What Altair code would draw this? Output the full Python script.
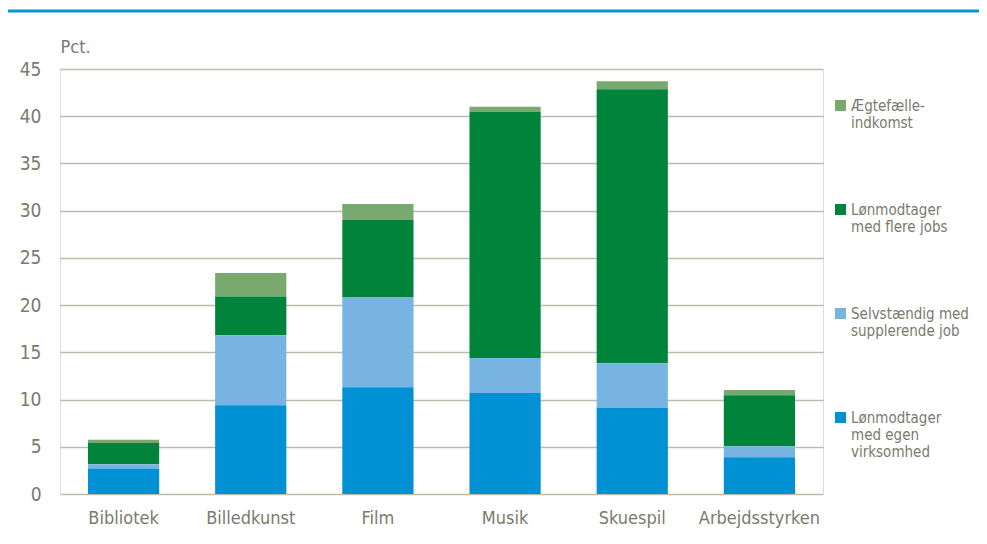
import altair as alt
import pandas as pd

categories = ["Bibliotek", "Billedkunst", "Film", "Musik", "Skuespil", "Arbejdsstyrken"]

series = [
    "Ægtefælle-\nindkomst",
    "Lønmodtager\nmed flere jobs",
    "Selvstændig med\nsupplerende job",
    "Lønmodtager\nmed egen\nvirksomhed",
]
colors = ["#78A96E", "#00843C", "#78B4E2", "#0090D4"]
# stack position: 1 = bottom
stack_rank = [4, 3, 2, 1]

egen_virksomhed = [2.7, 9.4, 11.3, 10.7, 9.1, 3.9]
selvstaendig = [0.45, 7.4, 9.5, 3.7, 4.75, 1.15]
flere_jobs = [2.25, 4.1, 8.25, 26.05, 29.0, 5.4]
aegtefaelle = [0.35, 2.5, 1.65, 0.55, 0.85, 0.55]

values_by_series = [aegtefaelle, flere_jobs, selvstaendig, egen_virksomhed]

rows = []
for s, r, vals in zip(series, stack_rank, values_by_series):
    for c, v in zip(categories, vals):
        rows.append({"Kategori": c, "Serie": s, "rank": r, "Værdi": v})
df = pd.DataFrame(rows)

FONT = "DejaVu Sans Condensed, Liberation Sans Narrow, sans-serif"
TXT = "#7a7a6e"

bars = alt.Chart(df).mark_bar().encode(
    x=alt.X(
        "Kategori:N",
        sort=categories,
        scale=alt.Scale(paddingInner=0.44, paddingOuter=0.22),
        axis=alt.Axis(title=None, labelAngle=0, ticks=False, domain=False,
                      labelPadding=15, labelFontSize=18, labelFont=FONT,
                      labelColor=TXT, grid=False),
    ),
    y=alt.Y(
        "Værdi:Q",
        stack="zero",
        scale=alt.Scale(domain=[0, 45], nice=False),
        axis=alt.Axis(values=list(range(0, 50, 5)), title="Pct.", titleAngle=0,
                      titleX=0, titleY=-22, titleAlign="left", titleBaseline="middle",
                      titleFont=FONT, titleFontSize=18, titleFontWeight="normal",
                      titleColor=TXT, ticks=False, domain=False, labelPadding=19,
                      labelFontSize=19, labelFont=FONT, labelColor=TXT,
                      grid=True, gridColor="#bcbcae", gridWidth=1.5),
    ),
    color=alt.Color(
        "Serie:N",
        scale=alt.Scale(domain=series, range=colors),
        legend=alt.Legend(
            title=None, orient="none", legendX=773, legendY=29,
            symbolType="square", symbolSize=121, symbolStrokeWidth=0,
            labelFont=FONT, labelFontSize=15, labelColor=TXT, labelOffset=3,
            labelExpr="split(datum.label, '\\n')", labelLimit=300,
            rowPadding=71, padding=0, labelBaseline="middle",
        ),
    ),
    order=alt.Order("rank:Q", sort="ascending"),
)

topline = alt.Chart(pd.DataFrame({"a": [0]})).mark_rule(
    color="#0096D6", strokeWidth=3
).encode(x=alt.value(-52), x2=alt.value(920), y=alt.value(-58))

chart = alt.layer(bars, topline).properties(
    width=763,
    height=425,
    autosize=alt.AutoSizeParams(type="none"),
    padding={"left": 52, "top": 61, "right": 156, "bottom": 42},
).configure_view(stroke=None).configure(background="white")

chart.save("out.html", embed_options={"renderer": "svg", "actions": False})
